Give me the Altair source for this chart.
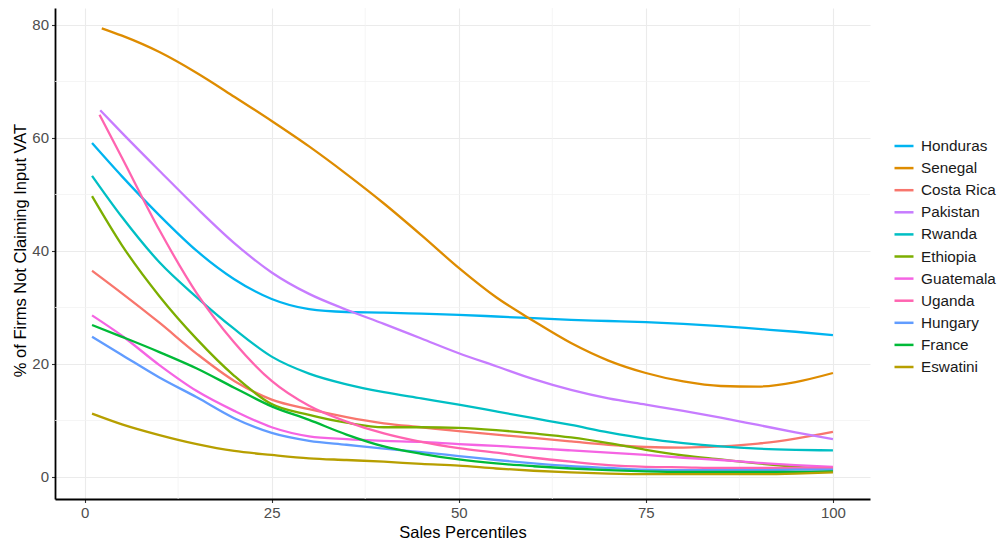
import altair as alt
import pandas as pd

# ---- data ----
countries = ["Honduras", "Senegal", "Costa Rica", "Pakistan", "Rwanda", "Ethiopia",
             "Guatemala", "Uganda", "Hungary", "France", "Eswatini"]
colors = ["#00B4F0", "#DE8C00", "#F8766D", "#C77CFF", "#00BFC4", "#7CAE00",
          "#F564E3", "#FF64B0", "#619CFF", "#00BA38", "#B79F00"]

# first sales percentile of each curve (same order as countries)
start_pct = [1, 2.3, 1, 2.1, 1, 1, 1, 2.0, 1, 1, 1]
# common percentiles after the first point
pct_grid = [5, 10, 15, 20, 25, 30, 35, 40, 45, 50, 55, 60, 65, 70, 75, 80, 85, 90, 95, 100]

honduras   = [59.1, 53.2, 46.3, 40.0, 35.0, 31.5, 29.7, 29.2, 29.1, 28.9, 28.7, 28.4, 28.1, 27.8, 27.6, 27.4, 27.1, 26.7, 26.2, 25.7, 25.1]
senegal    = [79.4, 78.1, 75.2, 71.5, 67.3, 63.0, 58.5, 53.6, 48.4, 42.8, 37.0, 31.8, 27.6, 23.7, 20.6, 18.4, 16.9, 16.1, 16.0, 16.8, 18.4]
costa_rica = [36.5, 32.5, 27.3, 21.8, 17.0, 13.7, 12.0, 10.6, 9.5, 8.8, 8.1, 7.5, 6.9, 6.3, 5.7, 5.3, 5.2, 5.4, 5.9, 6.8, 8.0]
pakistan   = [64.9, 60.9, 54.2, 47.6, 41.4, 36.2, 32.4, 29.6, 27.1, 24.5, 21.9, 19.6, 17.3, 15.4, 13.9, 12.8, 11.7, 10.5, 9.2, 7.9, 6.7]
rwanda     = [53.3, 46.0, 38.0, 31.8, 26.2, 21.3, 18.3, 16.4, 15.0, 13.9, 12.8, 11.6, 10.4, 9.2, 7.9, 6.8, 6.0, 5.4, 5.0, 4.8, 4.7]
ethiopia   = [49.7, 41.0, 32.0, 24.4, 17.9, 12.9, 11.0, 9.6, 8.8, 8.8, 8.7, 8.3, 7.7, 7.0, 6.0, 4.8, 3.8, 3.1, 2.4, 1.8, 1.3]
guatemala  = [28.6, 25.0, 19.8, 15.2, 11.7, 8.8, 7.2, 6.7, 6.4, 6.2, 5.8, 5.5, 5.1, 4.7, 4.3, 3.9, 3.4, 3.0, 2.5, 2.1, 1.8]
uganda     = [64.1, 56.5, 43.7, 32.5, 23.8, 17.0, 12.6, 9.8, 7.7, 6.2, 5.1, 4.3, 3.4, 2.7, 2.1, 1.8, 1.7, 1.6, 1.6, 1.6, 1.6]
hungary    = [24.8, 21.6, 17.6, 14.1, 10.4, 7.8, 6.4, 5.7, 5.0, 4.4, 3.7, 3.0, 2.4, 1.9, 1.6, 1.3, 1.2, 1.2, 1.2, 1.3, 1.3]
france     = [26.9, 24.8, 22.1, 19.2, 15.8, 12.5, 10.1, 7.5, 5.4, 4.1, 3.1, 2.4, 1.9, 1.5, 1.2, 1.0, 0.9, 0.9, 0.9, 0.9, 1.0]
eswatini   = [11.2, 9.3, 7.4, 5.8, 4.6, 3.9, 3.3, 3.0, 2.7, 2.3, 2.0, 1.5, 1.1, 0.8, 0.6, 0.5, 0.5, 0.5, 0.5, 0.6, 0.8]

series = [honduras, senegal, costa_rica, pakistan, rwanda, ethiopia,
          guatemala, uganda, hungary, france, eswatini]

x_ticks = [0, 25, 50, 75, 100]
y_ticks = [0, 20, 40, 60, 80]
x_minor = [12.5, 37.5, 62.5, 87.5]
y_minor = [10, 30, 50, 70]

rows = []
for name, s0, vals in zip(countries, start_pct, series):
    for i, (p, v) in enumerate(zip([s0] + pct_grid, vals)):
        rows.append({"country": name, "pct": p, "value": v, "order": i})
df = pd.DataFrame(rows)

FONT = "Liberation Sans"
xscale = alt.Scale(domain=[-3.95, 104.95], nice=False, zero=False)
yscale = alt.Scale(domain=[-3.9, 83.0], nice=False, zero=False)

vminor = alt.Chart(pd.DataFrame({"pct": x_minor})).mark_rule(
    color="#F3F3F3", strokeWidth=0.8
).encode(x=alt.X("pct:Q", scale=xscale))
hminor = alt.Chart(pd.DataFrame({"value": y_minor})).mark_rule(
    color="#F3F3F3", strokeWidth=0.8
).encode(y=alt.Y("value:Q", scale=yscale))

lines = alt.Chart(df).mark_line(strokeWidth=2.3, interpolate="monotone").encode(
    x=alt.X("pct:Q", scale=xscale,
            axis=alt.Axis(values=x_ticks, title="Sales Percentiles",
                          titleBaseline="alphabetic", titleY=38)),
    y=alt.Y("value:Q", scale=yscale,
            axis=alt.Axis(values=y_ticks, title="% of Firms Not Claiming Input VAT",
                          titleBaseline="alphabetic", titleX=-30, titleY=242)),
    color=alt.Color("country:N",
                    scale=alt.Scale(domain=countries, range=colors),
                    legend=alt.Legend(title=None, orient="none", legendX=838, legendY=127,
                                      symbolType="stroke", symbolSize=361,
                                      symbolStrokeWidth=2.5, labelOffset=6,
                                      rowPadding=2.1, padding=0,
                                      labelFont=FONT, labelFontSize=15.3,
                                      labelColor="#1A1A1A", labelLimit=200)),
    detail="country:N",
    order="order:Q",
)

chart = alt.layer(vminor, hminor, lines).properties(
    width=815, height=491,
    autosize=alt.AutoSizeParams(type="none"),
    padding={"left": 47, "top": 0, "right": 127, "bottom": 44},
).configure_view(stroke=None).configure_axis(
    grid=True, gridColor="#EBEBEB", gridWidth=1.1,
    domainColor="#000000", domainWidth=1.8,
    tickColor="#333333", tickSize=3.5, tickWidth=1.1,
    labelFont=FONT, labelFontSize=15, labelColor="#4D4D4D", labelPadding=3,
    titleFont=FONT, titleFontSize=16.5, titleFontWeight="normal", titleColor="#000000",
)

chart.save("out.html", embed_options={"renderer": "svg", "actions": False})
